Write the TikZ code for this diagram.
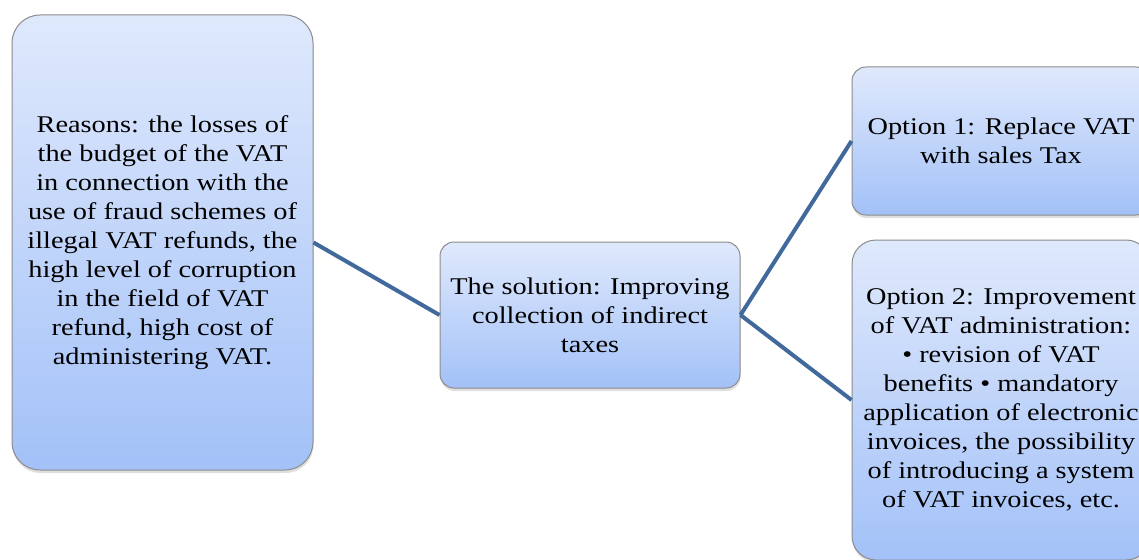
\documentclass[tikz,border=0pt]{standalone}
\usepackage{fontspec}
\setmainfont{Liberation Serif}[FakeStretch=1.18]
\usetikzlibrary{shadows}
\definecolor{boxtop}{HTML}{DFE9FC}
\definecolor{boxbottom}{HTML}{A3C1F8}
\definecolor{boxline}{HTML}{8C8C8C}
\definecolor{linkblue}{HTML}{41699C}
\tikzset{
  ideabox/.style={draw=boxline, line width=1pt, top color=boxtop, bottom color=boxbottom,
    align=center, inner sep=0pt, font=\fontsize{24}{29}\selectfont,
    drop shadow={shadow xshift=0.5pt, shadow yshift=-3pt, opacity=0.25}},
  link/.style={draw=linkblue, line width=4pt},
}

\begin{document}
\begin{tikzpicture}[x=1pt, y=-1pt]
        \useasboundingbox (0, 0) rectangle (1139, 559);
        \clip (0, 0) rectangle (1139, 559);
        % node
        \node[ideabox, rounded corners=28pt, minimum width=301pt, minimum height=455pt] (reasons) at (162.5, 242.5)
          {Reasons: the losses of\\ the budget of the VAT\\ in connection with the\\ use of fraud schemes of\\ illegal VAT refunds, the\\ high level of corruption\\ in the field of VAT\\ refund, high cost of\\ administering VAT.};
        \node[ideabox, rounded corners=14pt, minimum width=300pt, minimum height=146pt] (solution) at (590, 315)
          {The solution: Improving\\ collection of indirect\\ taxes};
        \node[ideabox, rounded corners=14pt, minimum width=298pt, minimum height=148pt] (option1) at (1001, 141)
          {Option 1: Replace VAT\\ with sales Tax};
        \node[ideabox, rounded corners=24pt, minimum width=298pt, minimum height=320pt] (option2) at (1001, 400)
          {Option 2: Improvement\\ of VAT administration:\\ • revision of VAT\\ benefits • mandatory\\ application of electronic\\ invoices, the possibility\\ of introducing a system\\ of VAT invoices, etc.};
        % lines
        \draw[link] (reasons.east) -- (solution.west);
        \draw[link] (solution.east) -- (option1.west);
        \draw[link] (solution.east) -- (option2.west);
      \end{tikzpicture}
\end{document}
